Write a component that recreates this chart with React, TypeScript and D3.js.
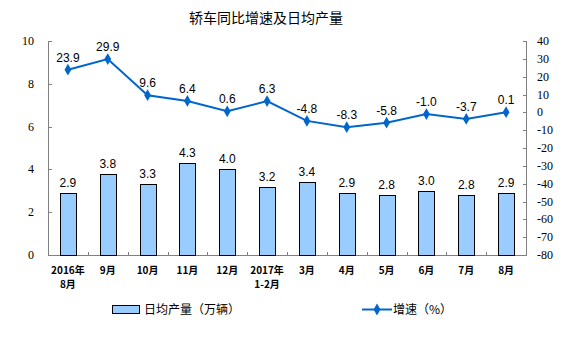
import React from 'react'
import * as d3 from 'd3'

const months = ['2016年\n8月', '9月', '10月', '11月', '12月', '2017年\n1-2月', '3月', '4月', '5月', '6月', '7月', '8月']
const output = [2.9, 3.8, 3.3, 4.3, 4.0, 3.2, 3.4, 2.9, 2.8, 3.0, 2.8, 2.9]
const growth = [23.9, 29.9, 9.6, 6.4, 0.6, 6.3, -4.8, -8.3, -5.8, -1.0, -3.7, 0.1]
const leftTicks = [0, 2, 4, 6, 8, 10]
const rightTicks = [40, 30, 20, 10, 0, -10, -20, -30, -40, -50, -60, -70, -80]

const W = 565, H = 351
const left = 48, right = 526, top = 41, bottom = 255
const cjk = '"Noto Sans CJK SC", sans-serif'
const serif = '"Liberation Serif", serif'
const sans = '"Liberation Sans", Arial, sans-serif'
const blue = '#0066cc'

const App = () => {
  const x = d3.scaleBand().domain(months).range([left, right])
  const yL = d3.scaleLinear().domain([0, 10]).range([bottom, top])
  const yR = d3.scaleLinear().domain([-80, 40]).range([bottom, top])
  const bw = 16
  const cx = (m: string) => (x(m) || 0) + x.bandwidth() / 2
  const line = d3.line<number>().x((d, i) => cx(months[i])).y(d => yR(d))
  const diamond = d3.symbol().type(d3.symbolDiamond).size(40)()

  return (
    <svg width={W} height={H} style={{ position: 'absolute', left: 0, top: 0 }}>
      <rect width={W} height={H} fill="#fff" />
      <text x={266} y={23} textAnchor="middle" fontFamily={cjk} fontSize={14} fill="#000">轿车同比增速及日均产量</text>

      {/* axes */}
      <g stroke="#808080" strokeWidth={1} fill="none">
        <line x1={left + 0.5} x2={left + 0.5} y1={top} y2={bottom} />
        <line x1={right + 0.5} x2={right + 0.5} y1={top} y2={bottom} />
        <line x1={left} x2={right + 1} y1={bottom + 0.5} y2={bottom + 0.5} />
        {leftTicks.map(t => (
          <line key={'l' + t} x1={left} x2={left + 4} y1={Math.round(yL(t)) + 0.5} y2={Math.round(yL(t)) + 0.5} />
        ))}
        {rightTicks.map(t => (
          <line key={'r' + t} x1={right - 3} x2={right + 1} y1={Math.round(yR(t)) + 0.5} y2={Math.round(yR(t)) + 0.5} />
        ))}
        {months.slice(1).map(m => (
          <line key={'x' + m} x1={Math.round(x(m) || 0) + 0.5} x2={Math.round(x(m) || 0) + 0.5} y1={bottom - 3} y2={bottom} />
        ))}
      </g>
      {leftTicks.map(t => (
        <text key={'lt' + t} x={34} y={yL(t) + 4} textAnchor="end" fontFamily={serif} fontSize={12}>{t}</text>
      ))}
      {rightTicks.map(t => (
        <text key={'rt' + t} x={537} y={yR(t) + 4} fontFamily={serif} fontSize={12}>{t}</text>
      ))}

      {/* bars */}
      {output.map((v, i) => (
        <g key={'b' + i}>
          <rect x={Math.round(cx(months[i]) - bw / 2) + 0.5} y={Math.round(yL(v)) + 0.5} width={bw} height={bottom - Math.round(yL(v))}
            fill="#99ccff" stroke="#000" strokeWidth={1} />
          <text x={cx(months[i])} y={yL(v) - 6} textAnchor="middle" fontFamily={sans} fontSize={12}>{v.toFixed(1)}</text>
        </g>
      ))}

      {/* growth line */}
      <path d={line(growth) || ''} fill="none" stroke={blue} strokeWidth={2} />
      {growth.map((v, i) => (
        <g key={'p' + i}>
          <path d={diamond || ''} transform={`translate(${cx(months[i])},${yR(v)})`} fill={blue} />
          <text x={cx(months[i])} y={yR(v) - 8} textAnchor="middle" fontFamily={sans} fontSize={12}>{v.toFixed(1)}</text>
        </g>
      ))}

      {/* x labels */}
      {months.map(m => (
        <text key={'xl' + m} textAnchor="middle" fontFamily={cjk} fontSize={10} fontWeight="bold" fill="#000">
          {m.split('\n').map((s, j) => (
            <tspan key={j} x={cx(m)} y={274 + j * 14}>{s}</tspan>
          ))}
        </text>
      ))}

      {/* legend */}
      <rect x={112.5} y={305.5} width={27} height={8} fill="#99ccff" stroke="#000" strokeWidth={1} />
      <text x={144} y={314} fontFamily={cjk} fontSize={12}>日均产量（万辆）</text>
      <line x1={362} x2={392} y1={309.5} y2={309.5} stroke={blue} strokeWidth={2} />
      <path d={diamond || ''} transform="translate(377,309.5)" fill={blue} />
      <text x={393} y={314} fontFamily={cjk} fontSize={12}>增速（%）</text>
    </svg>
  )
}

export default App
